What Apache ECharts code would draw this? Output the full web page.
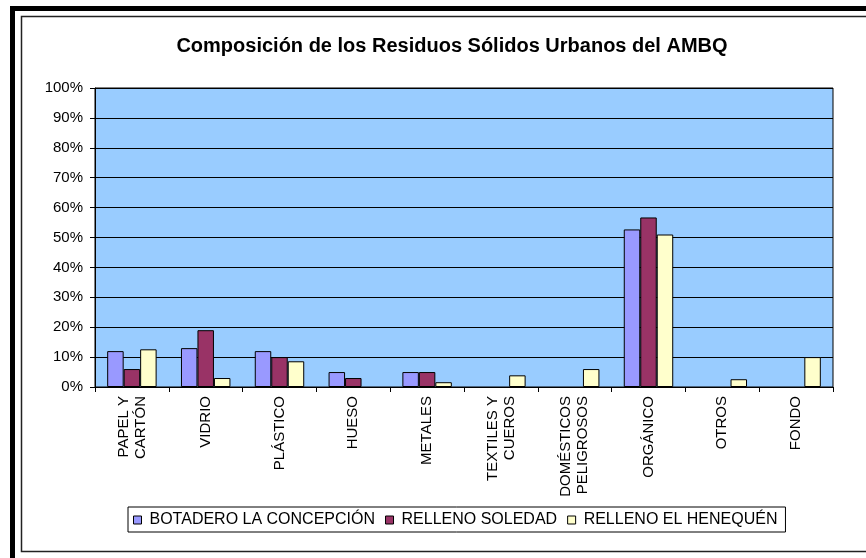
<!DOCTYPE html>
<html>
<head>
<meta charset="utf-8">
<script src="https://cdn.jsdelivr.net/npm/echarts@6/dist/echarts.min.js"></script>
<style>html,body{margin:0;padding:0;background:#fff}#c{width:866px;height:558px}</style>
</head>
<body>
<div id="c"></div>
<script>
const categories = ['PAPEL Y\nCARTÓN','VIDRIO','PLÁSTICO','HUESO','METALES','TEXTILES Y\nCUEROS','DOMÉSTICOS\nPELIGROSOS','ORGÁNICO','OTROS','FONDO'];
const botadero = [12, 13, 12, 5, 5, null, null, 52.7, null, null];
const soledad = [6, 19, 10, 3, 5, null, null, 56.7, null, null];
const henequen = [12.6, 3, 8.6, null, 1.6, 3.9, 6, 51, 2.6, 10];
const yTicks = [0,10,20,30,40,50,60,70,80,90,100];
const seriesNames = ['BOTADERO LA CONCEPCIÓN','RELLENO SOLEDAD','RELLENO EL HENEQUÉN'];
const colors = ['#9999FF','#993366','#FFFFCC'];
const font = 'Liberation Sans, Arial, sans-serif';

const chart = echarts.init(document.getElementById('c'), null, {renderer:'canvas'});
const mk = (name, data, color) => ({
  name, type:'bar', data, barGap:'0%', barCategoryGap:'33%',
  itemStyle:{color, borderColor:'#000', borderWidth:1}
});
chart.setOption({
  animation:false,
  backgroundColor:'#fff',
  title:{
    text:'Composición de los Residuos Sólidos Urbanos del AMBQ',
    left:447, top:31, textAlign:'center',
    textStyle:{fontFamily:font, fontSize:20, fontWeight:'bold', color:'#000'}
  },
  graphic:[
    {type:'rect', shape:{x:12.5,y:8.5,width:900,height:600}, style:{fill:'none',stroke:'#000',lineWidth:5}, z:10},
    {type:'rect', shape:{x:21.5,y:16.5,width:900,height:535}, style:{fill:'none',stroke:'#222',lineWidth:1.5}, z:10}
  ],
  legend:{
    data:seriesNames, left:128, top:507,
    orient:'horizontal',
    borderColor:'#000', borderWidth:1, padding:[5,8,4,5],
    itemWidth:8, itemHeight:8, itemGap:10,
    icon:'rect',
    itemStyle:{borderColor:'#000', borderWidth:1},
    textStyle:{fontFamily:font, fontSize:16, color:'#000', padding:[0,0,0,3]}
  },
  grid:{left:95, right:33, top:88, bottom:171, show:true, backgroundColor:'#99CCFF', borderColor:'#000', borderWidth:1},
  xAxis:{
    type:'category', data:categories,
    axisLine:{lineStyle:{color:'#000'}},
    axisTick:{show:true, length:5, lineStyle:{color:'#000'}},
    axisLabel:{rotate:90, interval:0, fontFamily:font, fontSize:15, color:'#000', margin:9, lineHeight:17}
  },
  yAxis:{
    type:'value', min:yTicks[0], max:yTicks[yTicks.length-1], interval:10,
    axisLine:{show:true, lineStyle:{color:'#000'}},
    axisTick:{show:true, length:5, lineStyle:{color:'#000'}},
    splitLine:{lineStyle:{color:'#000', width:1}},
    axisLabel:{formatter:'{value}%', fontFamily:font, fontSize:15, color:'#000', margin:12}
  },
  series:[mk(seriesNames[0], botadero, colors[0]), mk(seriesNames[1], soledad, colors[1]), mk(seriesNames[2], henequen, colors[2])]
});
</script>
</body>
</html>
